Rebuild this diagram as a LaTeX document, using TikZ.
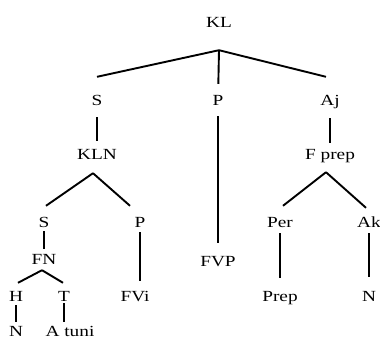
\documentclass[tikz,border=0pt]{standalone}
\usepackage{fontspec}
\setmainfont{Liberation Serif}[FakeStretch=1.25]
\usetikzlibrary{calc}

\tikzset{
  lbl/.style={anchor=base, inner sep=0pt, text height=10bp, text depth=0pt,
    font=\fontsize{15.5}{18}\selectfont},
  branch/.style={line width=1.9bp}
}

\begin{document}
\begin{tikzpicture}[x=1bp, y=-1bp]
 \clip (0,0) rectangle (380,340);
 % top level
 \node[lbl] (kl) at (219,27) {KL};
 \node[lbl] (s) at (97,105) {S};
 \node[lbl] (p) at (218,105) {P};
 \node[lbl] (aj) at (330,105) {Aj};
 \coordinate (klfork) at ($(kl.south)+(0,23)$);
 \draw[branch] (klfork) -- ($(s.north)+(0,-18)$);
 \draw[branch, shorten >=11bp] (klfork) -- (p);
 \draw[branch] (klfork) -- ($(aj.north)+(-4,-18)$);
 % second level
 \node[lbl] (kln) at (97,159) {KLN};
 \node[lbl] (fprep) at (330,159) {F prep};
 \node[lbl] (fvp) at (218,266) {FVP};
 \draw[branch, shorten <=12bp, shorten >=8bp] (s) -- (kln);
 \draw[branch, shorten <=11bp, shorten >=13bp] (p) -- (fvp);
 \draw[branch, shorten <=13bp, shorten >=6bp] (aj) -- (fprep);
 % subject clause
 \node[lbl] (s2) at (44,227) {S};
 \node[lbl] (p2) at (140,227) {P};
 \coordinate (klnfork) at ($(kln.south)+(-4,14)$);
 \draw[branch] (klnfork) -- ($(s2.north)+(2,-11)$);
 \draw[branch] (klnfork) -- ($(p2.north)+(-10,-11)$);
 \node[lbl] (fn) at (44,264) {FN};
 \node[lbl] (fvi) at (135,301) {FVi};
 \draw[branch, shorten <=4bp, shorten >=5bp] (s2) -- (fn);
 \draw[branch, shorten <=5bp, shorten >=10bp] (p2) -- (p2 |- fvi.north);
 % noun phrase
 \node[lbl] (h) at (16,301) {H};
 \node[lbl] (t) at (64,301) {T};
 \coordinate (fnfork) at ($(fn.south)+(-2,6)$);
 \draw[branch] (fnfork) -- ($(h.north)+(2,-8)$);
 \draw[branch] (fnfork) -- ($(t.north)+(-1,-8)$);
 \node[lbl] (n1) at (16,336) {N};
 \node[lbl] (atuni) at (70,336) {A tuni};
 \draw[branch, shorten <=4bp, shorten >=4bp] (h) -- (n1);
 \draw[branch, shorten <=2bp, shorten >=4bp] (t) -- (t |- atuni.north);
 % adjunct
 \node[lbl] (per) at (280,227) {Per};
 \node[lbl] (ak) at (369,227) {Ak};
 \coordinate (fprepfork) at ($(fprep.south)+(-4,13)$);
 \draw[branch] (fprepfork) -- ($(per.north)+(3,-11)$);
 \draw[branch] (fprepfork) -- ($(ak.north)+(-3,-9)$);
 \node[lbl] (prep) at (280,301) {Prep};
 \node[lbl] (n2) at (369,301) {N};
 \draw[branch, shorten <=6bp, shorten >=13bp] (per) -- (prep);
 \draw[branch, shorten <=6bp, shorten >=14bp] (ak) -- (n2);
\end{tikzpicture}
\end{document}
